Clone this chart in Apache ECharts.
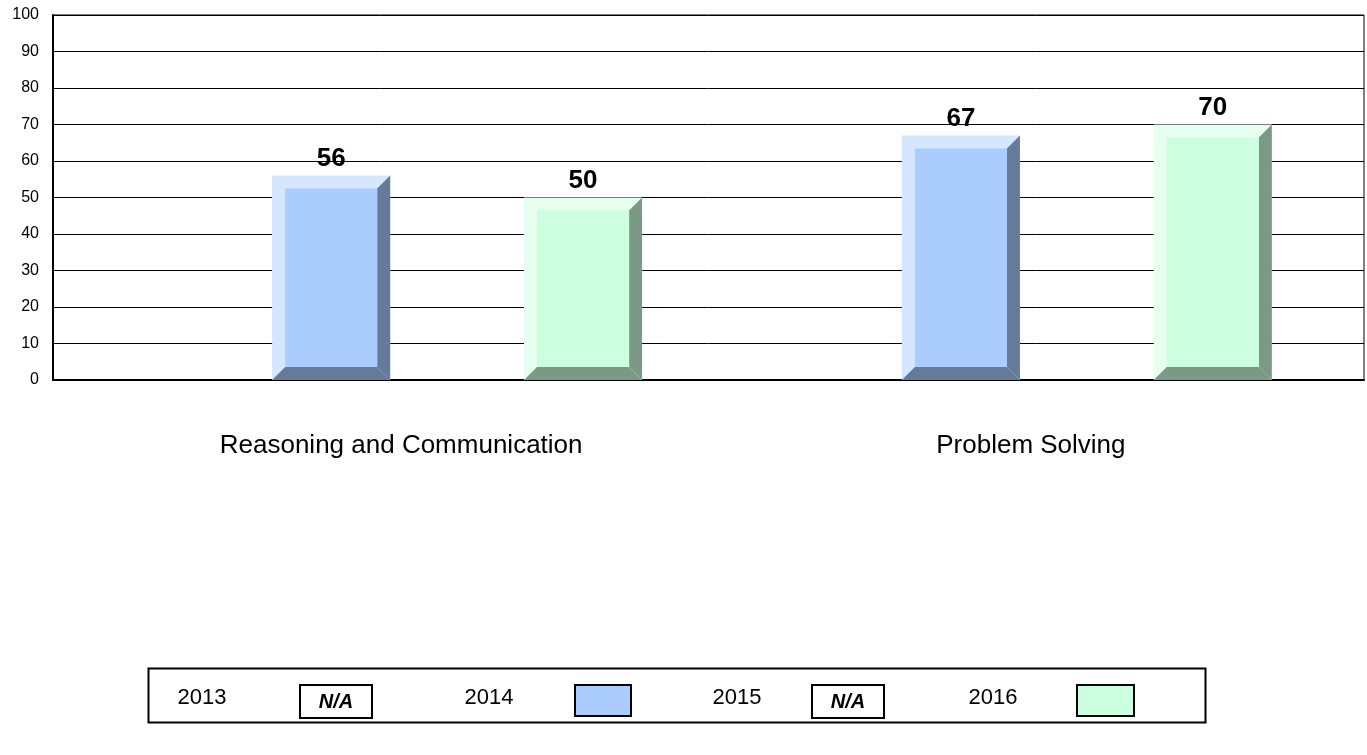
<!DOCTYPE html>
<html>
<head>
<meta charset="utf-8">
<script src="https://cdn.jsdelivr.net/npm/echarts@6/dist/echarts.min.js"></script>
<style>
  html, body { margin: 0; padding: 0; background: #fff; }
  #chart { width: 1367px; height: 755px; }
</style>
</head>
<body>
<div id="chart"></div>
<script>
var categories = ["Reasoning and Communication", "Problem Solving"];
var years = ["2013", "2014", "2015", "2016"];
var values2013 = [null, null];
var values2014 = [56, 67];
var values2015 = [null, null];
var values2016 = [50, 70];
var yTicks = [0, 10, 20, 30, 40, 50, 60, 70, 80, 90, 100];

// face / light bevel / dark bevel
var palette = {
    "2014": ["#abcdfe", "#d5e6ff", "#667b99"],
    "2016": ["#ccffdf", "#e6ffef", "#7a9987"]
};

function bevelSeries(yearIdx, values) {
    var cols = palette[years[yearIdx]];
    return {
        name: years[yearIdx],
        type: "custom",
        xAxisIndex: 1,
        yAxisIndex: 1,
        encode: { x: 0, y: 1 },
        data: categories.map(function (c, i) { return [i, values[i] == null ? "-" : values[i]]; }),
        renderItem: function (params, api) {
            var v = api.value(1);
            if (isNaN(v)) return null;
            var band = api.size([1, 0])[0];
            var top = api.coord([api.value(0), v]);
            var base = api.coord([api.value(0), 0]);
            var step = band * 0.2;
            var w = band * 0.1875;
            var cx = top[0] + (yearIdx - 1.5) * step;
            var x0 = cx - w / 2, x1 = cx + w / 2, y0 = top[1], y1 = base[1];
            var b = 13;
            return {
                type: "group",
                children: [
                    { type: "rect", shape: { x: x0, y: y0, width: w, height: y1 - y0 }, style: { fill: cols[1] } },
                    { type: "polygon", shape: { points: [[x1, y0], [x1, y1], [x1 - b, y1 - b], [x1 - b, y0 + b]] }, style: { fill: cols[2] } },
                    { type: "polygon", shape: { points: [[x0, y1], [x1, y1], [x1 - b, y1 - b], [x0 + b, y1 - b]] }, style: { fill: cols[2] } },
                    { type: "rect", shape: { x: x0 + b, y: y0 + b, width: w - 2 * b, height: y1 - y0 - 2 * b }, style: { fill: cols[0] } },
                    { type: "text", x: cx, y: y0 - 4, style: { text: String(v), font: "bold 26px 'Liberation Sans', Arial", fill: "#000", align: "center", verticalAlign: "bottom" } }
                ]
            };
        }
    };
}

var font = "'Liberation Sans', Arial, sans-serif";
var legendItems = [
    { text: "2013", tx: 202, box: [300, 685, 72, 33], fill: "#fff", na: true },
    { text: "2014", tx: 489, box: [575, 685, 56, 31], fill: "#abcdfe" },
    { text: "2015", tx: 737, box: [812, 685, 72, 33], fill: "#fff", na: true },
    { text: "2016", tx: 993, box: [1077, 685, 57, 31], fill: "#ccffdf" }
];
var graphics = [
    { type: "rect", shape: { x: 148.5, y: 668.5, width: 1057, height: 54 }, style: { fill: "#fff", stroke: "#000", lineWidth: 2 } }
];
legendItems.forEach(function (it) {
    graphics.push({ type: "text", x: it.tx, y: 698, style: { text: it.text, font: "22px " + font, fill: "#000", align: "center", verticalAlign: "middle" } });
    graphics.push({ type: "rect", shape: { x: it.box[0], y: it.box[1], width: it.box[2], height: it.box[3] }, style: { fill: it.fill, stroke: "#000", lineWidth: 2 } });
    if (it.na) {
        graphics.push({ type: "text", x: it.box[0] + it.box[2] / 2, y: it.box[1] + it.box[3] / 2 + 1, style: { text: "N/A", font: "italic bold 20px " + font, fill: "#000", align: "center", verticalAlign: "middle" } });
    }
});

var chart = echarts.init(document.getElementById("chart"));
chart.setOption({
    backgroundColor: "#fff",
    animation: false,
    grid: [
        { left: 53, right: 3, top: 15, bottom: 375, show: true, borderColor: "#000", borderWidth: 1 },
        { left: 79.25, right: 28.25, top: 15, bottom: 375 }
    ],
    xAxis: [{
        type: "category",
        gridIndex: 0,
        data: categories,
        axisLine: { lineStyle: { color: "#000", width: 2 } },
        axisTick: { show: false },
        axisLabel: { show: false }
    }, {
        type: "category",
        gridIndex: 1,
        data: categories,
        axisLine: { show: false },
        axisTick: { show: false },
        axisLabel: { color: "#000", fontSize: 26, fontFamily: font, margin: 53, padding: [0, 0, 0, 14] }
    }],
    yAxis: [{
        type: "value",
        gridIndex: 0,
        min: yTicks[0],
        max: yTicks[yTicks.length - 1],
        interval: 10,
        axisLine: { show: true, lineStyle: { color: "#000", width: 2 } },
        axisTick: { show: false },
        axisLabel: { color: "#000", fontSize: 16, fontFamily: font, margin: 14 },
        splitLine: { lineStyle: { color: "#000", width: 1 } }
    }, {
        type: "value",
        gridIndex: 1,
        min: yTicks[0],
        max: yTicks[yTicks.length - 1],
        interval: 10,
        show: false
    }],
    series: [bevelSeries(1, values2014), bevelSeries(3, values2016)],
    graphic: graphics
});
</script>
</body>
</html>
